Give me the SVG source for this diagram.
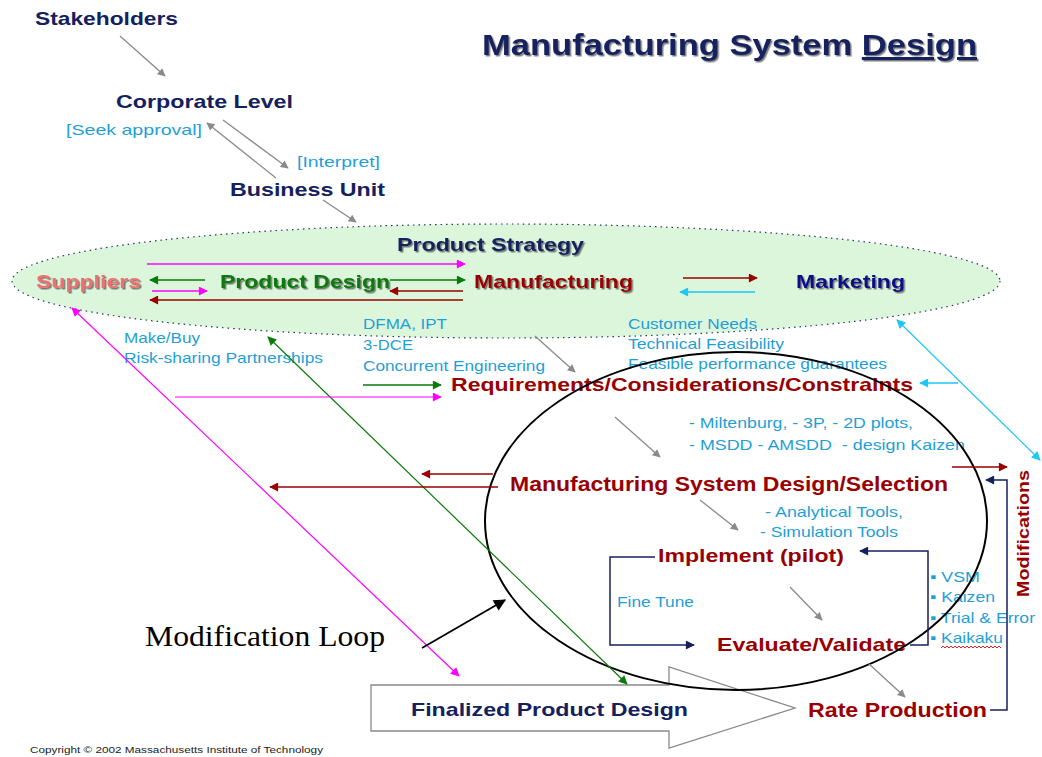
<svg xmlns="http://www.w3.org/2000/svg" width="1042" height="757" viewBox="0 0 1042 757">
<defs>
<style>
.b{font-family:"Liberation Sans",Arial,sans-serif;font-weight:bold;}
.n{fill:#14215e;}
.r{fill:#990000;}
.c{font-family:"Liberation Sans",Arial,sans-serif;fill:#1f9fd6;font-size:15px;}
.sh{filter:url(#sh);}
.g{stroke:#8a8a8a;stroke-width:1.3;fill:none;}
</style>
<filter id="sh" x="-5%" y="-30%" width="110%" height="160%"><feDropShadow dx="1.5" dy="1.5" stdDeviation="0.6" flood-color="#444" flood-opacity="0.7"/></filter>
<marker id="ag" viewBox="0 0 10 10" refX="9" refY="5" markerWidth="10" markerHeight="8" markerUnits="userSpaceOnUse" orient="auto-start-reverse"><path d="M0,0L10,5L0,10Z" fill="#8a8a8a"/></marker>
<marker id="am" viewBox="0 0 10 10" refX="9" refY="5" markerWidth="12" markerHeight="9" markerUnits="userSpaceOnUse" orient="auto-start-reverse"><path d="M0,0L10,5L0,10Z" fill="#ff00ff"/></marker>
<marker id="agr" viewBox="0 0 10 10" refX="9" refY="5" markerWidth="12" markerHeight="9" markerUnits="userSpaceOnUse" orient="auto-start-reverse"><path d="M0,0L10,5L0,10Z" fill="#0a7a0a"/></marker>
<marker id="ar" viewBox="0 0 10 10" refX="9" refY="5" markerWidth="12" markerHeight="9" markerUnits="userSpaceOnUse" orient="auto-start-reverse"><path d="M0,0L10,5L0,10Z" fill="#990000"/></marker>
<marker id="ac" viewBox="0 0 10 10" refX="9" refY="5" markerWidth="12" markerHeight="9" markerUnits="userSpaceOnUse" orient="auto-start-reverse"><path d="M0,0L10,5L0,10Z" fill="#1cc6f5"/></marker>
<marker id="an" viewBox="0 0 10 10" refX="9" refY="5" markerWidth="12" markerHeight="9" markerUnits="userSpaceOnUse" orient="auto-start-reverse"><path d="M0,0L10,5L0,10Z" fill="#14215e"/></marker>
<marker id="ak" viewBox="0 0 10 10" refX="9" refY="5" markerWidth="14" markerHeight="12" markerUnits="userSpaceOnUse" orient="auto-start-reverse"><path d="M0,0L10,5L0,10Z" fill="#000"/></marker>
</defs>
<rect width="1042" height="757" fill="#fff"/>

<g id="strategy-ellipse">
<ellipse cx="506" cy="281" rx="494" ry="57" fill="#dcf6dc" stroke="#2a3560" stroke-width="1.2" stroke-dasharray="1.5,4"/>
</g>

<g id="title"><text class="b n sh" x="482" y="55" font-size="30" textLength="495" lengthAdjust="spacingAndGlyphs">Manufacturing System <tspan text-decoration="underline">Design</tspan></text></g>

<g id="stakeholders"><text class="b n" x="35" y="25" font-size="19" textLength="143" lengthAdjust="spacingAndGlyphs">Stakeholders</text></g>
<g id="corporate"><text class="b n" x="116" y="108" font-size="19" textLength="177" lengthAdjust="spacingAndGlyphs">Corporate Level</text></g>
<g id="business-unit"><text class="b n" x="230" y="196" font-size="19" textLength="155" lengthAdjust="spacingAndGlyphs">Business Unit</text></g>
<g id="labels-top">
<text class="c" x="66" y="135" font-size="16" textLength="136" lengthAdjust="spacingAndGlyphs">[Seek approval]</text>
<text class="c" x="297" y="167" font-size="16" textLength="83" lengthAdjust="spacingAndGlyphs">[Interpret]</text>
</g>

<g id="product-strategy"><text class="b n sh" x="397" y="251" font-size="19" textLength="187" lengthAdjust="spacingAndGlyphs">Product Strategy</text></g>
<g id="suppliers"><text class="b sh" x="36" y="288" font-size="19" fill="#f07070" textLength="105" lengthAdjust="spacingAndGlyphs">Suppliers</text></g>
<g id="product-design"><text class="b sh" x="220" y="288" font-size="19" fill="#0a7a0a" textLength="170" lengthAdjust="spacingAndGlyphs">Product Design</text></g>
<g id="manufacturing"><text class="b r sh" x="474" y="288" font-size="19" textLength="159" lengthAdjust="spacingAndGlyphs">Manufacturing</text></g>
<g id="marketing"><text class="b sh" x="796" y="288" font-size="19" fill="#0a0a88" textLength="109" lengthAdjust="spacingAndGlyphs">Marketing</text></g>

<g id="notes">
<text class="c" x="124" y="343" textLength="76" lengthAdjust="spacingAndGlyphs">Make/Buy</text>
<text class="c" x="124" y="363" textLength="199" lengthAdjust="spacingAndGlyphs">Risk-sharing Partnerships</text>
<text class="c" x="363" y="329" textLength="84" lengthAdjust="spacingAndGlyphs">DFMA, IPT</text>
<text class="c" x="363" y="350" textLength="50" lengthAdjust="spacingAndGlyphs">3-DCE</text>
<text class="c" x="363" y="371" textLength="182" lengthAdjust="spacingAndGlyphs">Concurrent Engineering</text>
<text class="c" x="628" y="329" textLength="129" lengthAdjust="spacingAndGlyphs">Customer Needs</text>
<text class="c" x="628" y="349" textLength="156" lengthAdjust="spacingAndGlyphs">Technical Feasibility</text>
<text class="c" x="628" y="369" textLength="259" lengthAdjust="spacingAndGlyphs">Feasible performance guarantees</text>
<text class="c" x="689" y="428" textLength="224" lengthAdjust="spacingAndGlyphs">- Miltenburg, - 3P, - 2D plots,</text>
<text class="c" x="689" y="450" textLength="276" lengthAdjust="spacingAndGlyphs" xml:space="preserve">- MSDD - AMSDD  - design Kaizen</text>
<text class="c" x="765" y="517" textLength="138" lengthAdjust="spacingAndGlyphs">- Analytical Tools,</text>
<text class="c" x="760" y="537" textLength="138" lengthAdjust="spacingAndGlyphs">- Simulation Tools</text>
<text class="c" x="617" y="607" font-size="14" textLength="77" lengthAdjust="spacingAndGlyphs">Fine Tune</text>
<text class="c" x="930" y="582" textLength="50" lengthAdjust="spacingAndGlyphs">▪ VSM</text>
<text class="c" x="930" y="602" textLength="65" lengthAdjust="spacingAndGlyphs">▪ Kaizen</text>
<text class="c" x="930" y="623" textLength="105" lengthAdjust="spacingAndGlyphs">▪ Trial &amp; Error</text>
<text class="c" x="930" y="643" textLength="73" lengthAdjust="spacingAndGlyphs">▪ Kaikaku</text>
<path d="M941,648 l2,-2 l2,2 l2,-2 l2,2 l2,-2 l2,2 l2,-2 l2,2 l2,-2 l2,2 l2,-2 l2,2 l2,-2 l2,2 l2,-2 l2,2 l2,-2 l2,2 l2,-2 l2,2 l2,-2 l2,2 l2,-2 l2,2 l2,-2 l2,2 l2,-2 l2,2 l2,-2 l2,2" fill="none" stroke="#e02020" stroke-width="1"/>
</g>

<g id="requirements"><text class="b r" x="451" y="391" font-size="19" textLength="462" lengthAdjust="spacingAndGlyphs">Requirements/Considerations/Constraints</text></g>
<g id="ms-design"><text class="b r" x="510" y="491" font-size="20" textLength="438" lengthAdjust="spacingAndGlyphs">Manufacturing System Design/Selection</text></g>
<g id="implement"><text class="b r" x="658" y="562" font-size="19" textLength="186" lengthAdjust="spacingAndGlyphs">Implement (pilot)</text></g>
<g id="evaluate"><text class="b r" x="717" y="651" font-size="19" textLength="189" lengthAdjust="spacingAndGlyphs">Evaluate/Validate</text></g>
<g id="modifications"><text class="b r" transform="translate(1029,597) rotate(-90)" x="0" y="0" font-size="17" textLength="127" lengthAdjust="spacingAndGlyphs">Modifications</text></g>

<g id="finalized">
<path d="M371,685 L669,685 L669,667 L795,708 L669,748 L669,731 L371,731 Z" fill="#fff" stroke="#8a8a8a" stroke-width="1.3"/>
<text class="b n" x="411" y="716" font-size="19" textLength="277" lengthAdjust="spacingAndGlyphs">Finalized Product Design</text>
</g>
<g id="rate-production"><text class="b r" x="808" y="717" font-size="20" textLength="179" lengthAdjust="spacingAndGlyphs">Rate Production</text></g>

<g id="modification-loop">
<ellipse cx="736" cy="521" rx="251" ry="169" fill="none" stroke="#000" stroke-width="2"/>
<text x="145" y="646" font-family="'Liberation Serif','Times New Roman',serif" font-size="30" fill="#000" textLength="240" lengthAdjust="spacingAndGlyphs">Modification Loop</text>
</g>

<g id="connectors">
<line class="g" x1="120" y1="36" x2="165" y2="76" marker-end="url(#ag)"/>
<line class="g" x1="223" y1="120" x2="288" y2="168" marker-end="url(#ag)"/>
<line class="g" x1="276" y1="178" x2="207" y2="123" marker-end="url(#ag)"/>
<line class="g" x1="323" y1="200" x2="356" y2="222" marker-end="url(#ag)"/>
<line class="g" x1="535" y1="336" x2="575" y2="372" marker-end="url(#ag)"/>
<line class="g" x1="615" y1="417" x2="660" y2="457" marker-end="url(#ag)"/>
<line class="g" x1="700" y1="500" x2="738" y2="530" marker-end="url(#ag)"/>
<line class="g" x1="790" y1="587" x2="822" y2="620" marker-end="url(#ag)"/>
<line class="g" x1="869" y1="664" x2="905" y2="697" marker-end="url(#ag)"/>

<line x1="147" y1="264" x2="465" y2="264" stroke="#ff00ff" stroke-width="1.5" marker-end="url(#am)"/>
<line x1="205" y1="280" x2="150" y2="280" stroke="#0a7a0a" stroke-width="1.5" marker-end="url(#agr)"/>
<line x1="390" y1="280" x2="465" y2="280" stroke="#0a7a0a" stroke-width="1.5" marker-end="url(#agr)"/>
<line x1="152" y1="291" x2="207" y2="291" stroke="#ff00ff" stroke-width="1.5" marker-end="url(#am)"/>
<line x1="463" y1="291" x2="390" y2="291" stroke="#990000" stroke-width="1.5" marker-end="url(#ar)"/>
<line x1="463" y1="300" x2="150" y2="300" stroke="#990000" stroke-width="1.5" marker-end="url(#ar)"/>
<line x1="683" y1="278" x2="757" y2="278" stroke="#990000" stroke-width="1.5" marker-end="url(#ar)"/>
<line x1="755" y1="292" x2="680" y2="292" stroke="#1cc6f5" stroke-width="1.5" marker-end="url(#ac)"/>

<line x1="72" y1="308" x2="459" y2="676" stroke="#ff00ff" stroke-width="1.2" marker-start="url(#am)" marker-end="url(#am)"/>
<line x1="268" y1="337" x2="627" y2="684" stroke="#0a7a0a" stroke-width="1.2" marker-start="url(#agr)" marker-end="url(#agr)"/>
<line x1="897" y1="320" x2="1040" y2="460" stroke="#1cc6f5" stroke-width="1.2" marker-start="url(#ac)" marker-end="url(#ac)"/>

<line x1="363" y1="385" x2="441" y2="385" stroke="#0a7a0a" stroke-width="1.5" marker-end="url(#agr)"/>
<line x1="175" y1="397" x2="441" y2="397" stroke="#ff00ff" stroke-width="1" marker-end="url(#am)"/>
<line x1="958" y1="383" x2="920" y2="383" stroke="#1cc6f5" stroke-width="1.5" marker-end="url(#ac)"/>

<line x1="493" y1="474" x2="422" y2="474" stroke="#990000" stroke-width="1.5" marker-end="url(#ar)"/>
<line x1="498" y1="487" x2="270" y2="487" stroke="#990000" stroke-width="1.5" marker-end="url(#ar)"/>
<line x1="952" y1="467" x2="1007" y2="467" stroke="#990000" stroke-width="1.5" marker-end="url(#ar)"/>

<path d="M990,710 L1007,710 L1007,480 L986,480" fill="none" stroke="#14215e" stroke-width="1.5" marker-end="url(#an)"/>
<path d="M910,645 L928,645 L928,551 L860,551" fill="none" stroke="#14215e" stroke-width="1.5" marker-end="url(#an)"/>
<path d="M655,557 L610,557 L610,645 L694,645" fill="none" stroke="#14215e" stroke-width="1.5" marker-end="url(#an)"/>

<line x1="422" y1="648" x2="505" y2="600" stroke="#000" stroke-width="1.8" marker-end="url(#ak)"/>
</g>

<g id="copyright"><text x="30" y="753" font-family="'Liberation Sans',Arial,sans-serif" font-size="9" fill="#222" textLength="293" lengthAdjust="spacingAndGlyphs">Copyright © 2002 Massachusetts Institute of Technology</text></g>
</svg>
